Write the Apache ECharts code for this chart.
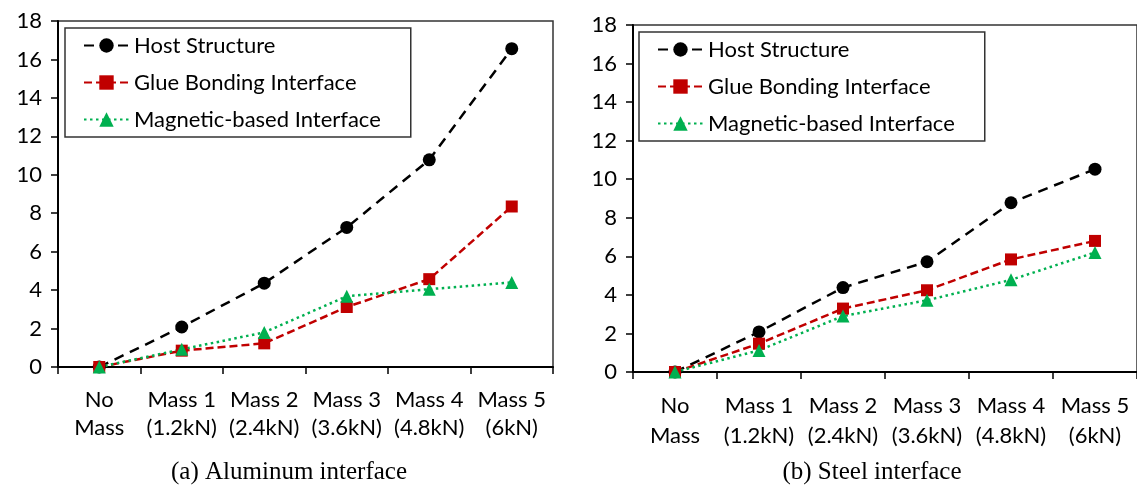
<!DOCTYPE html>
<html>
<head>
<meta charset="utf-8">
<script src="https://cdn.jsdelivr.net/npm/echarts@6/dist/echarts.min.js"></script>
<style>
  html, body { margin: 0; padding: 0; background: #fff; }
  #chart { width: 1137px; height: 493px; }
</style>
</head>
<body>
<div id="chart"></div>
<script>
// categories (x axis)
const categories = ["No\nMass", "Mass 1\n(1.2kN)", "Mass 2\n(2.4kN)", "Mass 3\n(3.6kN)", "Mass 4\n(4.8kN)", "Mass 5\n(6kN)"];
const seriesNames = ["Host Structure", "Glue Bonding Interface", "Magnetic-based Interface"];
const captions = ["(a) Aluminum interface", "(b) Steel interface"];

// (a) aluminum interface
const aluHost = [0, 2.08, 4.36, 7.26, 10.78, 16.56];
const aluGlue = [0, 0.85, 1.23, 3.12, 4.57, 8.35];
const aluMagnetic = [0, 0.92, 1.8, 3.68, 4.05, 4.4];

// (b) steel interface
const steelHost = [0, 2.08, 4.38, 5.72, 8.78, 10.52];
const steelGlue = [0, 1.47, 3.29, 4.24, 5.84, 6.8];
const steelMagnetic = [0, 1.12, 2.9, 3.72, 4.78, 6.2];

const FONT = "Lato";
const styles = [
  { color: "#000000", symbol: "circle", size: 13, dash: [10, 7] },
  { color: "#C00000", symbol: "rect", size: 12, dash: [8, 4] },
  { color: "#00B050", symbol: "triangle", size: 13, dash: [2.5, 3.5] }
];

function makeSeries(idx, data, gridIdx) {
  const s = styles[idx];
  return {
    name: seriesNames[idx],
    type: "line",
    xAxisIndex: gridIdx,
    yAxisIndex: gridIdx,
    data: data,
    symbol: s.symbol,
    symbolSize: s.size,
    showAllSymbol: true,
    itemStyle: { color: s.color },
    lineStyle: { color: s.color, width: 2.5, type: s.dash },
    animation: false
  };
}

function xAxis(gridIdx, lh) {
  return {
    type: "category",
    gridIndex: gridIdx,
    data: categories,
    boundaryGap: true,
    axisLine: { lineStyle: { color: "#000", width: 2 } },
    axisTick: { show: true, length: 7, lineStyle: { color: "#000", width: 1.5 } },
    axisLabel: { interval: 0, color: "#000", fontFamily: FONT, fontSize: 22, lineHeight: lh, margin: 19 }
  };
}

function yAxis(gridIdx) {
  return {
    type: "value",
    gridIndex: gridIdx,
    min: 0, max: 18, interval: 2,
    splitLine: { show: false },
    axisLine: { show: true, lineStyle: { color: "#000", width: 2 } },
    axisTick: { show: true, length: 7, lineStyle: { color: "#000", width: 1.5 } },
    axisLabel: { color: "#000", fontFamily: FONT, fontSize: 22, margin: 16 }
  };
}

function legend(left, top) {
  return {
    data: seriesNames,
    orient: "vertical",
    left: left, top: top,
    itemWidth: 45, itemHeight: 18,
    itemGap: 12,
    padding: [5, 30, 5, 18],
    borderColor: "#333", borderWidth: 1.5,
    textStyle: { color: "#000", fontFamily: FONT, fontSize: 22, lineHeight: 25 },
    selectedMode: false
  };
}

const chart = echarts.init(document.getElementById("chart"));
chart.setOption({
  backgroundColor: "#fff",
  animation: false,
  grid: [
    { left: 58, top: 21, right: 584, bottom: 126, show: true, borderColor: "#333", borderWidth: 1.5 },
    { left: 633, top: 25, right: -6, bottom: 121, show: true, borderColor: "#333", borderWidth: 1.5 }
  ],
  title: [
    { text: captions[0], left: 284, top: 455, textAlign: "center",
      textStyle: { fontFamily: "Liberation Serif", fontWeight: "normal", fontSize: 25, color: "#000" } },
    { text: captions[1], left: 867, top: 455, textAlign: "center",
      textStyle: { fontFamily: "Liberation Serif", fontWeight: "normal", fontSize: 25, color: "#000" } }
  ],
  legend: [legend(65, 28), legend(639, 32)],
  xAxis: [xAxis(0, 28), xAxis(1, 30)],
  yAxis: [yAxis(0), yAxis(1)],
  series: [
    makeSeries(0, aluHost, 0),
    makeSeries(1, aluGlue, 0),
    makeSeries(2, aluMagnetic, 0),
    makeSeries(0, steelHost, 1),
    makeSeries(1, steelGlue, 1),
    makeSeries(2, steelMagnetic, 1)
  ]
});
</script>
</body>
</html>
